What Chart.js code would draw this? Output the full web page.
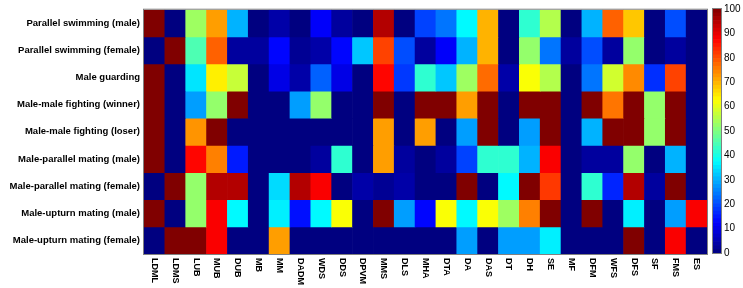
<!DOCTYPE html>
<html>
<head>
<meta charset="utf-8">
<script src="https://cdn.jsdelivr.net/npm/chart.js@4"></script>
<style>
  body { margin: 0; background: #fff; }
  #wrap { position: relative; width: 743px; height: 288px; }
  #main { position: absolute; left: 0; top: 0; }
  #bar { position: absolute; left: 700px; top: 0; }
</style>
</head>
<body>
<div id="wrap">
  <canvas id="main" width="743" height="288"></canvas>
  <canvas id="bar" width="43" height="288"></canvas>
</div>
<script>
var columns = ['LDML', 'LDMS', 'LUB', 'MUB', 'DUB', 'MB', 'MM', 'DADM', 'WDS', 'DDS', 'DPVM', 'MMS', 'DLS', 'MHA',
    'DTA', 'DA', 'DAS', 'DT', 'DH', 'SE', 'MF', 'DFM', 'WFS', 'DFS', 'SF', 'FMS', 'ES'];

var rows = [
    'Parallel swimming (male)',
    'Parallel swimming (female)',
    'Male guarding',
    'Male-male fighting (winner)',
    'Male-male fighting (loser)',
    'Male-parallel mating (male)',
    'Male-parallel mating (female)',
    'Male-upturn mating (male)',
    'Male-upturn mating (female)',
];

// one array per row, in the column order above (percent)
var swimMale     = [100, 0, 53, 72, 30, 0, 4, 0, 12, 3, 0, 95, 0, 19, 24, 37, 70, 0, 42, 55, 0, 30, 78, 68, 0, 20, 0];
var swimFemale   = [0, 100, 45, 78, 3, 3, 13, 2, 4, 13, 32, 81, 20, 3, 12, 30, 70, 0, 52, 24, 3, 20, 3, 52, 0, 3, 0];
var guarding     = [100, 0, 35, 64, 57, 0, 10, 4, 22, 10, 0, 87, 18, 42, 32, 53, 77, 4, 62, 55, 0, 24, 58, 74, 17, 81, 0];
var fightWinner  = [100, 0, 28, 52, 100, 0, 0, 28, 52, 0, 0, 100, 0, 100, 100, 72, 100, 0, 100, 100, 0, 100, 76, 100, 52, 100, 0];
var fightLoser   = [100, 0, 73, 100, 0, 0, 0, 0, 0, 0, 0, 72, 0, 72, 0, 28, 100, 0, 28, 100, 0, 30, 100, 100, 52, 100, 0];
var parMateMale  = [100, 0, 87, 75, 15, 0, 0, 0, 3, 42, 0, 72, 3, 0, 3, 19, 42, 42, 30, 88, 0, 3, 3, 52, 0, 30, 0];
var parMateFem   = [0, 100, 52, 95, 95, 0, 34, 95, 88, 0, 4, 2, 4, 0, 0, 100, 0, 37, 100, 82, 0, 42, 16, 95, 3, 100, 0];
var upMateMale   = [100, 0, 52, 88, 37, 0, 36, 14, 37, 62, 0, 100, 28, 13, 62, 37, 62, 53, 75, 100, 0, 100, 0, 36, 0, 28, 88];
var upMateFem    = [0, 100, 100, 88, 0, 0, 72, 0, 0, 0, 0, 0, 0, 0, 0, 28, 0, 28, 28, 36, 0, 0, 0, 100, 0, 88, 0];

var values = [swimMale, swimFemale, guarding, fightWinner, fightLoser, parMateMale, parMateFem, upMateMale, upMateFem];

var barTicks = [0, 10, 20, 30, 40, 50, 60, 70, 80, 90, 100];

// matlab-ish jet colormap
function jet(v) {
    var t = Math.max(0, Math.min(1, v / 100));
    function c(x) { return Math.round(255 * Math.max(0, Math.min(1, x))); }
    var r = c(1.5 - Math.abs(4 * t - 3));
    var g = c(1.5 - Math.abs(4 * t - 2));
    var b = c(1.5 - Math.abs(4 * t - 1));
    return 'rgb(' + r + ',' + g + ',' + b + ')';
}

var frame = {
    id: 'frame',
    afterDraw: function (chart) {
        var a = chart.chartArea, ctx = chart.ctx;
        ctx.save();
        ctx.strokeStyle = '#808080';
        ctx.lineWidth = 1;
        ctx.strokeRect(a.left - 0.5, a.top - 0.5, a.right - a.left + 1, a.bottom - a.top + 1);
        ctx.restore();
    }
};

// x labels read top to bottom, like the matlab figure
var colLabels = {
    id: 'colLabels',
    afterDraw: function (chart) {
        var x = chart.scales.x, ctx = chart.ctx;
        ctx.save();
        ctx.font = 'bold 9px "Liberation Sans", Arial, sans-serif';
        ctx.fillStyle = '#000';
        ctx.textAlign = 'left';
        ctx.textBaseline = 'middle';
        columns.forEach(function (lab, i) {
            ctx.save();
            ctx.translate(x.getPixelForValue(i), chart.chartArea.bottom + 4);
            ctx.rotate(Math.PI / 2);
            ctx.fillText(lab, 0, 0);
            ctx.restore();
        });
        ctx.restore();
    }
};

var datasets = values.map(function (row, r) {
    return {
        label: rows[r],
        data: row.map(function () { return [r, r + 1]; }),
        backgroundColor: row.map(jet),
        borderWidth: 0,
        grouped: false,
        barPercentage: 1,
        categoryPercentage: 1
    };
});

new Chart(document.getElementById('main'), {
    type: 'bar',
    data: { labels: columns, datasets: datasets },
    options: {
        responsive: false,
        animation: false,
        layout: { padding: { top: 9, right: 36, bottom: 34, left: 0 } },
        scales: {
            x: { display: false },
            y: { display: false, min: 0, max: 9, reverse: true },
            yl: {
                type: 'category',
                labels: rows,
                position: 'left',
                offset: true,
                grid: { display: false, drawTicks: false },
                border: { display: false },
                ticks: {
                    color: '#000',
                    padding: 4,
                    font: { family: '"Liberation Sans", Arial, sans-serif', size: 9.5, weight: 'bold' }
                },
                afterFit: function (s) { s.width = 144; }
            }
        },
        plugins: { legend: { display: false }, tooltip: { enabled: false } }
    },
    plugins: [frame, colLabels]
});

// colour bar
var steps = 64;
var barSets = [];
for (var i = 0; i < steps; i++) {
    barSets.push({
        data: [[i * 100 / steps, (i + 1) * 100 / steps]],
        backgroundColor: jet((i + 0.5) * 100 / steps),
        borderWidth: 0,
        grouped: false,
        barPercentage: 1,
        categoryPercentage: 1
    });
}

new Chart(document.getElementById('bar'), {
    type: 'bar',
    data: { labels: [''], datasets: barSets },
    options: {
        responsive: false,
        animation: false,
        layout: { padding: { top: 9, right: 0, bottom: 35, left: 13 } },
        scales: {
            x: { display: false },
            y: {
                position: 'right',
                min: 0,
                max: 100,
                afterBuildTicks: function (s) { s.ticks = barTicks.map(function (v) { return { value: v }; }); },
                grid: { display: false, drawTicks: false },
                border: { display: false },
                ticks: {
                    color: '#000',
                    padding: 3,
                    font: { family: '"Liberation Sans", Arial, sans-serif', size: 10 }
                },
                afterFit: function (s) { s.width = 22; }
            }
        },
        plugins: { legend: { display: false }, tooltip: { enabled: false } }
    },
    plugins: [frame]
});
</script>
</body>
</html>
